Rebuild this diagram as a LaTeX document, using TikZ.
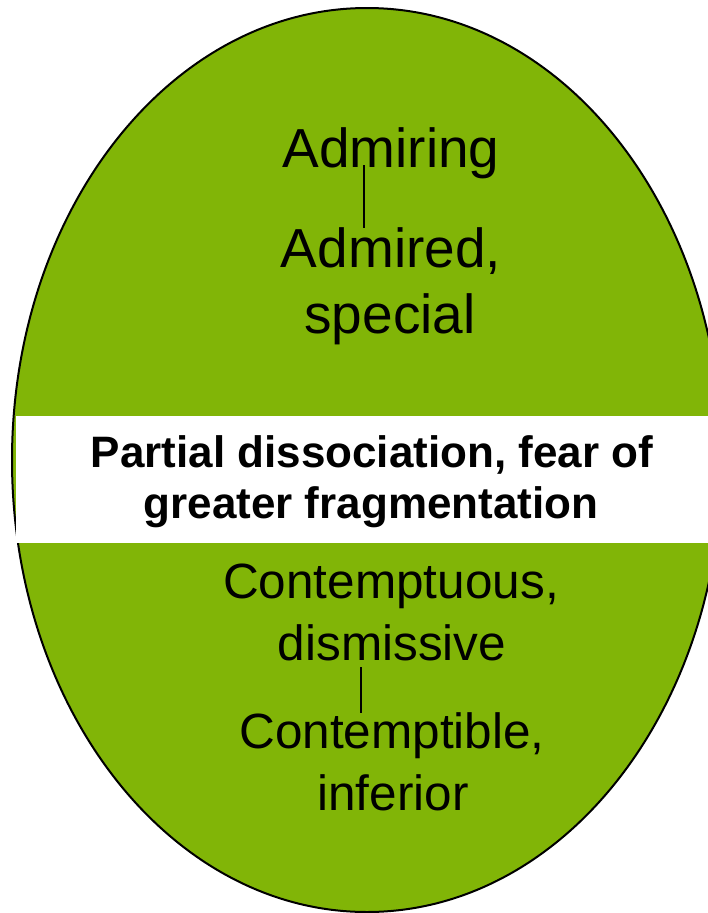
\documentclass[tikz,border=0pt]{standalone}
\usepackage{fontspec}
\setmainfont{Liberation Sans}
\definecolor{ovalgreen}{RGB}{129,181,7}
\begin{document}
\begin{tikzpicture}[x=1pt,y=-1pt,
  lbl/.style={inner sep=0pt,anchor=base,text=black},
  toptxt/.style={lbl,font=\fontsize{55}{66}\selectfont},
  bottxt/.style={lbl,font=\fontsize{49.5}{60}\selectfont},
  bandtxt/.style={lbl,font=\fontsize{44}{52}\selectfont\bfseries},
  connector/.style={draw=black,line width=1.4pt}]
\useasboundingbox (0,0) rectangle (708,913);
\clip (0,0) rectangle (708,913);
\fill[white] (0,0) rectangle (708,913);
% oval
\draw[fill=ovalgreen,draw=black,line width=2pt] (367,460) ellipse [x radius=355pt,y radius=452pt];
% white band
\fill[white] (16,416) rectangle (708,543);
% top texts
\node[toptxt] (admiring) at (391,167) {Admiring};
\node[toptxt] (admired) at (391,267) {Admired,};
\node[toptxt] (special) at (390,333) {special};
% band texts
\node[bandtxt] (band1) at (372,467) {Partial dissociation, fear of};
\node[bandtxt] (band2) at (371,518) {greater fragmentation};
% bottom texts
\node[bottxt] (contemptuous) at (391,598) {Contemptuous,};
\node[bottxt] (dismissive) at (392,660) {dismissive};
\node[bottxt] (contemptible) at (392,748) {Contemptible,};
\node[bottxt] (inferior) at (393,810) {inferior};
% connectors
\coordinate (c1a) at (364,165);
\coordinate (c1b) at (364,228);
\coordinate (c2a) at (361,667);
\coordinate (c2b) at (361,713);
\draw[connector] (c1a) -- (c1b);
\draw[connector] (c2a) -- (c2b);
\end{tikzpicture}
\end{document}
